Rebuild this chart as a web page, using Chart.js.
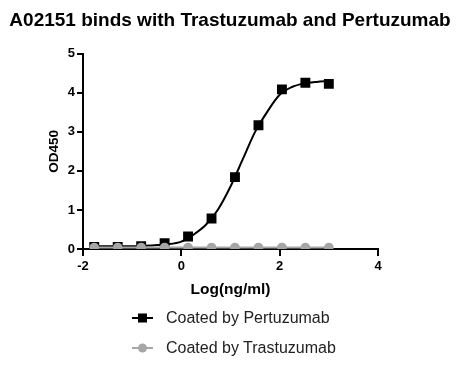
<!DOCTYPE html>
<html>
<head>
<meta charset="utf-8">
<script src="https://cdn.jsdelivr.net/npm/chart.js@4/dist/chart.umd.min.js"></script>
<style>
  html, body { margin: 0; padding: 0; background: #fff; }
  #wrap { position: relative; width: 460px; height: 366px; }
  #c { position: absolute; left: 0; top: 0; }
  .leg { position: absolute; left: 130px; font-family: Arial, "Liberation Sans", sans-serif; font-size: 16px; color: #222; display: flex; align-items: center; height: 20px; }
  .leg svg { margin-right: 11px; }
</style>
</head>
<body>
<div id="wrap">
  <canvas id="c" width="460" height="366"></canvas>
  <div class="leg" style="top:308px;">
    <svg width="25" height="12"><line x1="2" y1="6" x2="23" y2="6" stroke="#000" stroke-width="2"/><rect x="8" y="1.5" width="9" height="9" fill="#000"/></svg>
    <span>Coated by Pertuzumab</span>
  </div>
  <div class="leg" style="top:338px;">
    <svg width="25" height="12"><line x1="2" y1="6" x2="23" y2="6" stroke="#a6a6a6" stroke-width="2"/><circle cx="12.5" cy="6" r="4.5" fill="#a6a6a6"/></svg>
    <span>Coated by Trastuzumab</span>
  </div>
</div>
<script>
const titleText = "A02151 binds with Trastuzumab and Pertuzumab";
const xTitle = "Log(ng/ml)";
const yTitle = "OD450";
const seriesNames = ["Coated by Pertuzumab", "Coated by Trastuzumab"];
const logConc = [-1.771, -1.294, -0.817, -0.340, 0.137, 0.614, 1.091, 1.569, 2.046, 2.523, 3.000];
const pertuzumab = [0.05, 0.05, 0.07, 0.15, 0.32, 0.78, 1.84, 3.17, 4.09, 4.26, 4.23];
const trastuzumab = [0.04, 0.04, 0.04, 0.04, 0.04, 0.04, 0.04, 0.04, 0.04, 0.04, 0.04];
const fitX = [-1.771, -1.3, -0.8, -0.3, 0, 0.25, 0.5, 0.75, 1.0, 1.25, 1.5, 1.75, 2.0, 2.25, 2.5, 2.75, 3.0];
const fitY = [0.07, 0.07, 0.08, 0.12, 0.19, 0.37, 0.62, 1.02, 1.6, 2.3, 3.0, 3.52, 3.95, 4.15, 4.24, 4.28, 4.30];
const xTicks = [-2, 0, 2, 4];
const yTicks = [0, 1, 2, 3, 4, 5];

const toPts = (xs, ys) => xs.map((x, i) => ({ x: x, y: ys[i] }));
const FONT = 'Arial, "Liberation Sans", sans-serif';

new Chart(document.getElementById('c'), {
  type: 'scatter',
  data: {
    datasets: [
      { label: seriesNames[1], data: toPts(logConc, trastuzumab), showLine: true, borderColor: '#a6a6a6', backgroundColor: '#a6a6a6', borderWidth: 2, pointStyle: 'circle', pointRadius: 4.8, pointBorderWidth: 0, order: 0 },
      { label: seriesNames[0], data: toPts(logConc, pertuzumab), showLine: false, borderColor: '#000', backgroundColor: '#000', pointStyle: 'rect', pointRadius: 7, pointBorderWidth: 0, order: 1 },
      { label: 'fit', data: toPts(fitX, fitY), showLine: true, borderColor: '#000', borderWidth: 2, pointRadius: 0, cubicInterpolationMode: 'monotone', order: 2 }
    ]
  },
  options: {
    responsive: false,
    animation: false,
    layout: { padding: { left: 0, right: 0, top: 0, bottom: 67 } },
    plugins: {
      legend: { display: false },
      tooltip: { enabled: false },
      title: { display: true, text: titleText, color: '#000', font: { family: FONT, size: 19, weight: 'bold' }, padding: { top: 9, bottom: 22 } }
    },
    scales: {
      x: {
        type: 'linear', min: -2, max: 4,
        afterBuildTicks: s => { s.ticks = xTicks.map(v => ({ value: v })); },
        afterFit: s => { s.height = 50; },
        border: { color: '#000', width: 2 },
        grid: { drawOnChartArea: false, drawTicks: true, tickLength: 7, color: '#000', lineWidth: 2 },
        ticks: { color: '#000', padding: 3, font: { family: FONT, size: 13, weight: 'bold' } },
        title: { display: true, text: xTitle, color: '#000', padding: { top: 6, bottom: 0 }, font: { family: FONT, size: 15.5, weight: 'bold' } }
      },
      y: {
        type: 'linear', min: 0, max: 5,
        afterBuildTicks: s => { s.ticks = yTicks.map(v => ({ value: v })); },
        afterFit: s => { s.width = 83; },
        border: { color: '#000', width: 2 },
        grid: { drawOnChartArea: false, drawTicks: true, tickLength: 6, color: '#000', lineWidth: 2 },
        ticks: { color: '#000', padding: 2, font: { family: FONT, size: 13, weight: 'bold' } },
        title: { display: true, text: yTitle, color: '#000', padding: { top: 46 }, font: { family: FONT, size: 13.5, weight: 'bold' } }
      },
      yRight: {
        type: 'linear', position: 'right', min: 0, max: 5, display: true,
        afterFit: s => { s.width = 82; },
        border: { display: false },
        grid: { display: false, drawTicks: false },
        ticks: { display: false },
        title: { display: false }
      }
    }
  }
});
</script>
</body>
</html>
